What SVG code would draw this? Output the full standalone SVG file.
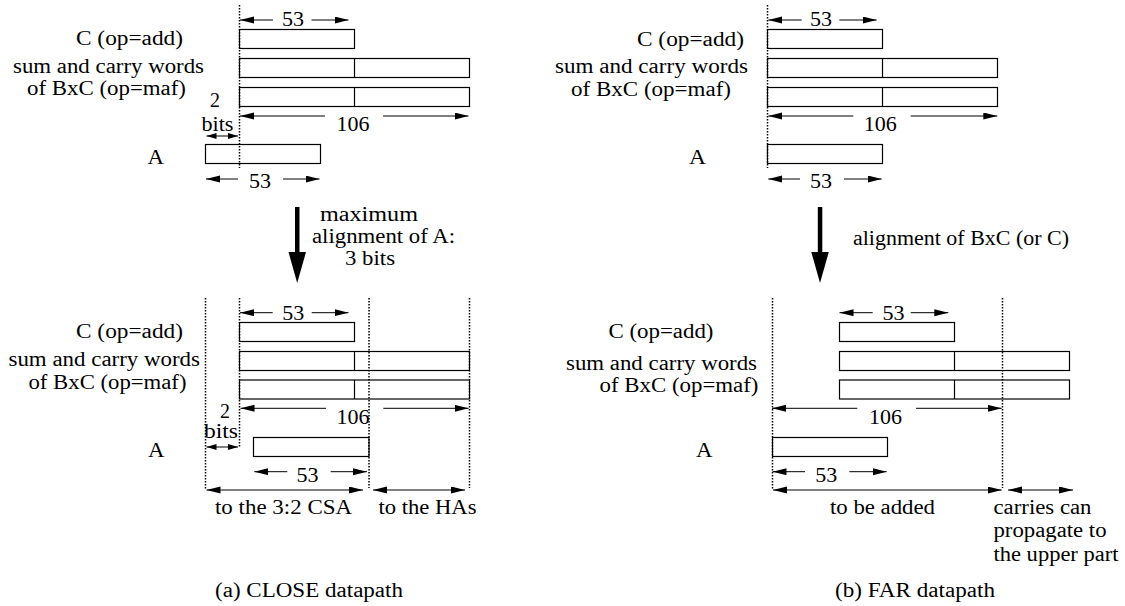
<svg xmlns="http://www.w3.org/2000/svg" width="1125" height="606" viewBox="0 0 1125 606">
<style>
.lbl{font-family:"Liberation Serif","Times New Roman",serif;font-size:20px;fill:#000}
.num{font-family:"Liberation Serif","Times New Roman",serif;font-size:22px;fill:#000;text-anchor:middle}
.box{fill:#fff;stroke:#000;stroke-width:1.2}
.div{stroke:#000;stroke-width:1.2}
.dot{stroke:#000;stroke-width:1.5;stroke-dasharray:1.5 1.5;fill:none}
.dim{stroke:#000;stroke-width:1;fill:none;marker-end:url(#ah)}
.dbl{stroke:#000;stroke-width:1;fill:none;marker-end:url(#ah);marker-start:url(#ah)}
.dbls{stroke:#000;stroke-width:1;fill:none;marker-end:url(#ahs);marker-start:url(#ahs)}
</style>
<defs>
<marker id="ah" markerUnits="userSpaceOnUse" markerWidth="15" markerHeight="8" refX="14" refY="3.5" orient="auto-start-reverse"><path d="M0,0 L14,3.5 L0,7 z" fill="#000"/></marker>
<marker id="ahs" markerUnits="userSpaceOnUse" markerWidth="11" markerHeight="7" refX="10" refY="3" orient="auto-start-reverse"><path d="M0,0 L10,3 L0,6 z" fill="#000"/></marker>
</defs>
<rect width="1125" height="606" fill="#fff"/>

<!-- Panel (a) top -->
<g id="a-top-labels">
<text class="lbl" x="76" y="45" textLength="107" lengthAdjust="spacingAndGlyphs">C (op=add)</text>
<text class="lbl" x="13" y="72.5" textLength="191" lengthAdjust="spacingAndGlyphs">sum and carry words</text>
<text class="lbl" x="27" y="95" textLength="159" lengthAdjust="spacingAndGlyphs">of BxC (op=maf)</text>
<text class="lbl" x="215" y="107" text-anchor="middle">2</text>
<text class="lbl" x="201.5" y="131" textLength="32" lengthAdjust="spacingAndGlyphs">bits</text>
<text class="lbl" x="147.5" y="163.5" textLength="16.5" lengthAdjust="spacingAndGlyphs">A</text>
</g>
<g id="a-top-C"><rect class="box" x="239.5" y="29.5" width="115" height="19"/></g>
<g id="a-top-sum"><rect class="box" x="239.5" y="58.5" width="230" height="19"/><line class="div" x1="354.5" y1="58.5" x2="354.5" y2="77.5"/></g>
<g id="a-top-carry"><rect class="box" x="239.5" y="87.5" width="230" height="19"/><line class="div" x1="354.5" y1="87.5" x2="354.5" y2="106.5"/></g>
<g id="a-top-A"><rect class="box" x="205.5" y="144.5" width="115" height="19"/></g>
<g id="a-top-dims">
<text class="num" x="293" y="25.5">53</text>
<text class="num" x="353" y="131">106</text>
<text class="num" x="260" y="188">53</text>
</g>

<!-- arrow (a) -->
<g id="a-arrow-label">
<text class="lbl" x="320" y="220.5" textLength="98" lengthAdjust="spacingAndGlyphs">maximum</text>
<text class="lbl" x="312" y="242.5" textLength="143" lengthAdjust="spacingAndGlyphs">alignment of A:</text>
<text class="lbl" x="345" y="264.5" textLength="50" lengthAdjust="spacingAndGlyphs">3 bits</text>
</g>

<!-- Panel (a) bottom -->
<g id="a-bot-labels">
<text class="lbl" x="76" y="337.5" textLength="107" lengthAdjust="spacingAndGlyphs">C (op=add)</text>
<text class="lbl" x="8.5" y="366" textLength="191.5" lengthAdjust="spacingAndGlyphs">sum and carry words</text>
<text class="lbl" x="28.5" y="388.5" textLength="158" lengthAdjust="spacingAndGlyphs">of BxC (op=maf)</text>
<text class="lbl" x="225" y="418" text-anchor="middle">2</text>
<text class="lbl" x="204" y="438" textLength="34" lengthAdjust="spacingAndGlyphs">bits</text>
<text class="lbl" x="148" y="456.5" textLength="16.5" lengthAdjust="spacingAndGlyphs">A</text>
<text class="lbl" x="215" y="514" textLength="137" lengthAdjust="spacingAndGlyphs">to the 3:2 CSA</text>
<text class="lbl" x="378.5" y="514" textLength="98" lengthAdjust="spacingAndGlyphs">to the HAs</text>
<text class="lbl" x="215" y="596.5" textLength="188" lengthAdjust="spacingAndGlyphs">(a) CLOSE datapath</text>
</g>
<g id="a-bot-C"><rect class="box" x="239.5" y="322.5" width="115" height="19"/></g>
<g id="a-bot-sum"><rect class="box" x="239.5" y="351.5" width="230" height="19"/><line class="div" x1="354.5" y1="351.5" x2="354.5" y2="370.5"/></g>
<g id="a-bot-carry"><rect class="box" x="239.5" y="380" width="230" height="19"/><line class="div" x1="354.5" y1="380" x2="354.5" y2="399"/></g>
<g id="a-bot-A"><rect class="box" x="253.5" y="437.5" width="115.5" height="19"/></g>
<g id="a-bot-dims">
<text class="num" x="293.3" y="319.5">53</text>
<text class="num" x="353" y="423.5">106</text>
<text class="num" x="307.5" y="481.5">53</text>
</g>

<!-- Panel (b) top -->
<g id="b-top-labels">
<text class="lbl" x="637" y="45.5" textLength="107" lengthAdjust="spacingAndGlyphs">C (op=add)</text>
<text class="lbl" x="555" y="72.5" textLength="193" lengthAdjust="spacingAndGlyphs">sum and carry words</text>
<text class="lbl" x="571" y="95.5" textLength="160" lengthAdjust="spacingAndGlyphs">of BxC (op=maf)</text>
<text class="lbl" x="689" y="163.5" textLength="17" lengthAdjust="spacingAndGlyphs">A</text>
</g>
<g id="b-top-C"><rect class="box" x="767.5" y="29.5" width="115" height="19"/></g>
<g id="b-top-sum"><rect class="box" x="767.5" y="58.5" width="230" height="19"/><line class="div" x1="882.5" y1="58.5" x2="882.5" y2="77.5"/></g>
<g id="b-top-carry"><rect class="box" x="767.5" y="87.5" width="230" height="19"/><line class="div" x1="882.5" y1="87.5" x2="882.5" y2="106.5"/></g>
<g id="b-top-A"><rect class="box" x="767.5" y="144.5" width="115" height="19"/></g>
<g id="b-top-dims">
<text class="num" x="821" y="25.5">53</text>
<text class="num" x="880.3" y="131">106</text>
<text class="num" x="821" y="188">53</text>
</g>

<g id="b-arrow-label">
<text class="lbl" x="853" y="245" textLength="216" lengthAdjust="spacingAndGlyphs">alignment of BxC (or C)</text>
</g>

<!-- Panel (b) bottom -->
<g id="b-bot-labels">
<text class="lbl" x="608.5" y="337.5" textLength="105" lengthAdjust="spacingAndGlyphs">C (op=add)</text>
<text class="lbl" x="566" y="370" textLength="191" lengthAdjust="spacingAndGlyphs">sum and carry words</text>
<text class="lbl" x="599.5" y="392" textLength="159" lengthAdjust="spacingAndGlyphs">of BxC (op=maf)</text>
<text class="lbl" x="696" y="456.5" textLength="16.5" lengthAdjust="spacingAndGlyphs">A</text>
<text class="lbl" x="830" y="514" textLength="105" lengthAdjust="spacingAndGlyphs">to be added</text>
<text class="lbl" x="993.5" y="514" textLength="98" lengthAdjust="spacingAndGlyphs">carries can</text>
<text class="lbl" x="993.5" y="537" textLength="113" lengthAdjust="spacingAndGlyphs">propagate to</text>
<text class="lbl" x="993.5" y="560.5" textLength="125" lengthAdjust="spacingAndGlyphs">the upper part</text>
<text class="lbl" x="835" y="596.5" textLength="160" lengthAdjust="spacingAndGlyphs">(b) FAR datapath</text>
</g>
<g id="b-bot-C"><rect class="box" x="839.5" y="322.5" width="115" height="19"/></g>
<g id="b-bot-sum"><rect class="box" x="839.5" y="351.5" width="230" height="19"/><line class="div" x1="954.5" y1="351.5" x2="954.5" y2="370.5"/></g>
<g id="b-bot-carry"><rect class="box" x="839.5" y="380" width="230" height="19"/><line class="div" x1="954.5" y1="380" x2="954.5" y2="399"/></g>
<g id="b-bot-A"><rect class="box" x="772.5" y="437.5" width="115" height="19"/></g>
<g id="b-bot-dims">
<text class="num" x="893.5" y="319.5">53</text>
<text class="num" x="885.5" y="423.5">106</text>
<text class="num" x="826.3" y="481.5">53</text>
</g>

<!-- connectors: dotted guides, dimension arrows, main arrows -->
<g id="connectors">
<line class="dot" x1="239.5" y1="5" x2="239.5" y2="168"/>
<line class="dot" x1="767.5" y1="5" x2="767.5" y2="168"/>
<line class="dot" x1="205.5" y1="298" x2="205.5" y2="490"/>
<line class="dot" x1="239.5" y1="298" x2="239.5" y2="447"/>
<line class="dot" x1="369" y1="298" x2="369" y2="488"/>
<line class="dot" x1="469.5" y1="298" x2="469.5" y2="488"/>
<line class="dot" x1="772.5" y1="298" x2="772.5" y2="490"/>
<line class="dot" x1="1002.5" y1="298" x2="1002.5" y2="488"/>

<line class="dim" x1="273" y1="20" x2="240" y2="20"/>
<line class="dim" x1="311.5" y1="20" x2="348.5" y2="20"/>
<line class="dim" x1="325" y1="116" x2="240" y2="116"/>
<line class="dim" x1="383" y1="116" x2="468.5" y2="116"/>
<line class="dim" x1="238" y1="179" x2="206" y2="179"/>
<line class="dim" x1="283" y1="179" x2="319.5" y2="179"/>
<line class="dbls" x1="206.5" y1="136" x2="238" y2="136"/>

<line class="dim" x1="272.7" y1="312.7" x2="240" y2="312.7"/>
<line class="dim" x1="311.7" y1="312.7" x2="348.5" y2="312.7"/>
<line class="dim" x1="326" y1="408.3" x2="240.5" y2="408.3"/>
<line class="dim" x1="383.3" y1="408.3" x2="468.5" y2="408.3"/>
<line class="dim" x1="287.3" y1="471.7" x2="254.3" y2="471.7"/>
<line class="dim" x1="330.7" y1="471.7" x2="367" y2="471.7"/>
<line class="dbls" x1="206.5" y1="447" x2="238" y2="447"/>
<line class="dbl" x1="206.5" y1="490" x2="363" y2="490"/>
<line class="dbl" x1="373" y1="490" x2="465" y2="490"/>

<line class="dim" x1="801.7" y1="20" x2="768.3" y2="20"/>
<line class="dim" x1="839.3" y1="20" x2="876.7" y2="20"/>
<line class="dim" x1="853.3" y1="116" x2="768.3" y2="116"/>
<line class="dim" x1="910.7" y1="116" x2="997.3" y2="116"/>
<line class="dim" x1="800" y1="179" x2="768.3" y2="179"/>
<line class="dim" x1="844" y1="179" x2="881.7" y2="179"/>

<line class="dim" x1="872.7" y1="312.7" x2="839.5" y2="312.7"/>
<line class="dim" x1="910.7" y1="312.7" x2="948.3" y2="312.7"/>
<line class="dim" x1="857.3" y1="408.3" x2="772" y2="408.3"/>
<line class="dim" x1="916" y1="408.3" x2="1001.7" y2="408.3"/>
<line class="dim" x1="805" y1="471.7" x2="772.5" y2="471.7"/>
<line class="dim" x1="849.3" y1="471.7" x2="886.7" y2="471.7"/>
<line class="dbl" x1="773" y1="490" x2="1001.7" y2="490"/>
<line class="dbl" x1="1008" y1="490" x2="1073" y2="490"/>

<rect x="295" y="207" width="4.5" height="47" fill="#000"/>
<polygon points="288.5,252 306,252 297.2,283" fill="#000"/>
<rect x="817.8" y="207" width="4.5" height="47" fill="#000"/>
<polygon points="811.3,252 828.8,252 820,283" fill="#000"/>
</g>
</svg>
